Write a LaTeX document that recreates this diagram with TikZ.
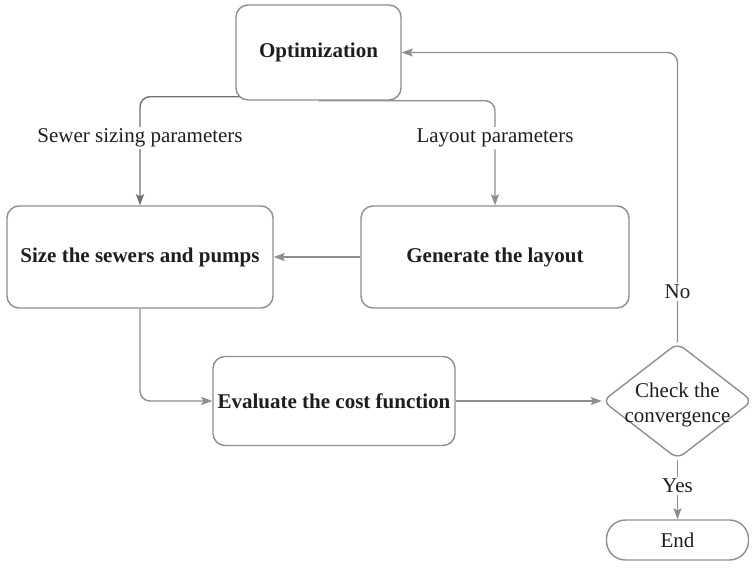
\documentclass[tikz,border=0pt]{standalone}
\usepackage{fontspec}
\setmainfont{Liberation Serif}
\usetikzlibrary{arrows.meta,shapes.geometric,backgrounds}
\definecolor{edge}{HTML}{8E8E8E}
\definecolor{edgedark}{HTML}{707070}
\definecolor{ink}{HTML}{1E1E1E}
\tikzset{
  textsize/.style={font=\fontsize{21}{25}\selectfont},
  procbox/.style={draw=edge, line width=1.4pt, fill=white, rounded corners=12pt,
    font=\fontsize{21}{25}\selectfont\bfseries, text=ink, align=center},
  decision/.style={diamond, draw=edge, line width=1.4pt, fill=white, rounded corners=8pt,
    inner sep=0pt, minimum width=150pt, minimum height=116pt},
  terminal/.style={draw=edge, line width=1.4pt, fill=white, rounded corners=19pt,
    minimum width=142pt, minimum height=40pt, textsize, text=ink},
  conn/.style={draw=edge, line width=1.4pt, rounded corners=10pt,
    -{Stealth[length=11pt,width=8pt,inset=2pt]}},
  lbl/.style={fill=white, inner sep=2pt, textsize, text=ink}
}
\begin{document}
\begin{tikzpicture}[x=1pt,y=-1pt]
  \useasboundingbox (0,0) rectangle (752,568);
  % process boxes
  \node[procbox, minimum width=165pt, minimum height=95pt] (opt) at (318.5,52.5) {Optimization};
  \node[procbox, minimum width=266pt, minimum height=102pt] (size) at (140,257) {Size the sewers and pumps};
  \node[procbox, minimum width=268pt, minimum height=102pt] (gen) at (495,257) {Generate the layout};
  \node[procbox, minimum width=242pt, minimum height=89pt] (eval) at (334,401) {Evaluate the cost function};
  % decision and terminal
  \node[decision, label={[align=center, textsize, text=ink, yshift=-4pt]center:Check the\\convergence}] (chk) at (677.5,401) {};
  \node[terminal] (end) at (677.5,540) {End};
  % connectors
  \begin{scope}[on background layer]
    \draw[conn, draw=edgedark] ([yshift=4pt]opt.south) -| (size.north)
      node[lbl, pos=0.69] {Sewer sizing parameters};
    \draw[conn] (opt.south) -| (gen.north)
      node[lbl, pos=0.68] {Layout parameters};
    \draw[conn] (gen.west) -- (size.east);
    \draw[conn] (size.south) |- (eval.west);
    \draw[conn] (eval.east) -- (chk.west);
    \draw[conn] (chk.north) |- (opt.east)
      node[lbl, pos=0.087] {No};
    \draw[conn] (chk.south) -- (end.north)
      node[lbl, pos=0.44] {Yes};
  \end{scope}
\end{tikzpicture}
\end{document}
